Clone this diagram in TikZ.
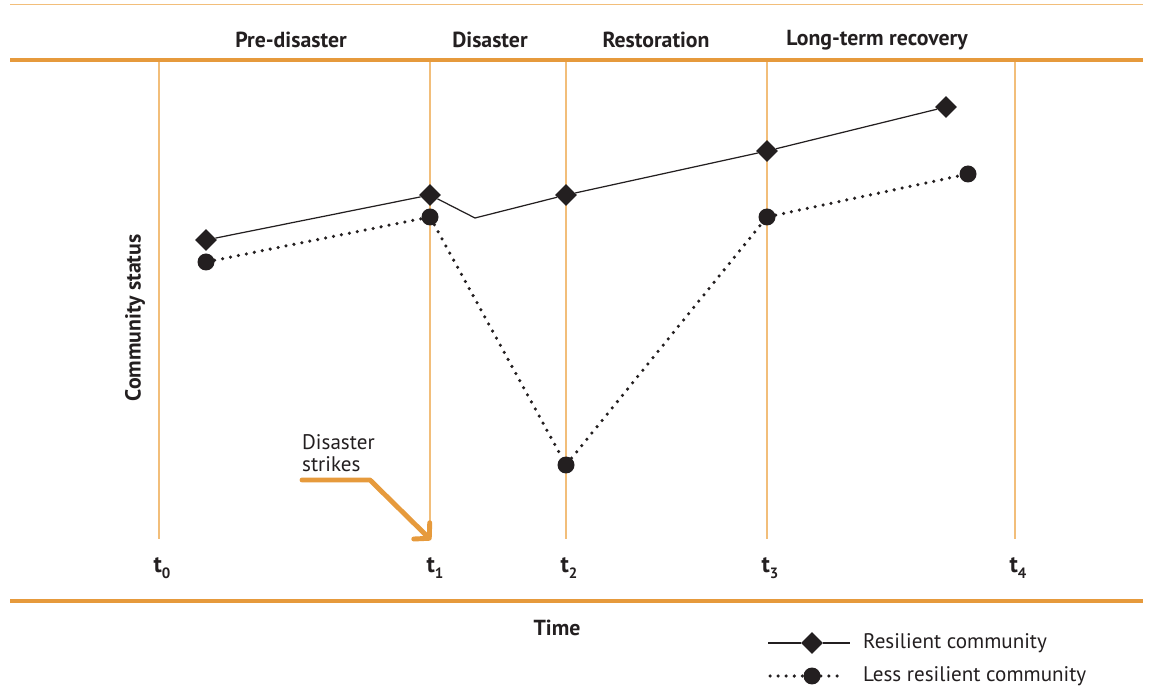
\documentclass[tikz,border=0pt]{standalone}
\usepackage{fontspec}
\setmainfont{PT Sans}
\usetikzlibrary{shapes.geometric,arrows.meta}

\definecolor{band}{HTML}{E69A3C}
\definecolor{rule}{HTML}{F2BE7A}
\definecolor{ink}{HTML}{231F20}

\newcommand{\tsub}[1]{t\raisebox{-0.55ex}{\fontsize{8.5}{9}\selectfont #1}}

\tikzset{
  res/.style={diamond, fill=ink, inner sep=0pt, minimum size=0.44cm},
  less/.style={circle, fill=ink, inner sep=0pt, minimum size=0.34cm},
  dots/.style={ink, line width=2pt, line cap=round, dash pattern=on 0pt off 4.6pt},
  phase/.style={text=ink, font=\bfseries\fontsize{12.4}{14}\selectfont},
  tick/.style={text=ink, font=\bfseries\fontsize{13.5}{15}\selectfont},
  note/.style={text=ink, font=\fontsize{12}{12.5}\selectfont},
}

\begin{document}
\begin{tikzpicture}[x=0.02cm, y=-0.02cm]
    \useasboundingbox (0,0) rectangle (1149,688);

    % frame
    \draw [rule, line width=0.8pt] (10,4.5) -- (1143,4.5);
    \draw [band, line width=2.8pt] (10,60) -- (1143,60);
    \draw [band, line width=2.8pt] (10,601) -- (1143,601);

    \draw [rule, line width=0.7pt] (159,62) -- (159,539);
    \draw [rule, line width=0.7pt] (430,62) -- (430,539);
    \draw [rule, line width=0.7pt] (566,62) -- (566,539);
    \draw [rule, line width=0.7pt] (767,62) -- (767,539);
    \draw [rule, line width=0.7pt] (1015,62) -- (1015,539);

    % phases
    \node [phase] (pre)  at (291,40) {Pre-disaster};
    \node [phase] (dis)  at (490,40) {Disaster};
    \node [phase] (rest) at (656,40) {Restoration};
    \node [phase] (long) at (877,40) {Long-term recovery};

    % time axis
    \node [tick] (t0) at (162,568) {\tsub{0}};
    \node [tick] (t1) at (435,568) {\tsub{1}};
    \node [tick] (t2) at (569,568) {\tsub{2}};
    \node [tick] (t3) at (770,568) {\tsub{3}};
    \node [tick] (t4) at (1018,568) {\tsub{4}};
    \node [phase] (time) at (557,628) {Time};
    \node [phase, rotate=90] (status) at (135,318) {Community status};

    % resilient community
    \node [res] (r0) at (206,240) {};
    \node [res] (r1) at (430,195) {};
    \node [res] (r2) at (566,195) {};
    \node [res] (r3) at (767,151) {};
    \node [res] (r4) at (946,107) {};
    \coordinate (dip) at (475,218);
    \draw [ink, line width=0.7pt] (r0) -- (r1) -- (dip) -- (r2) -- (r3) -- (r4);

    % less resilient community
    \node [less] (l0) at (206,262) {};
    \node [less] (l1) at (430,217) {};
    \node [less] (l2) at (566,465) {};
    \node [less] (l3) at (767,217) {};
    \node [less] (l4) at (968,174) {};
    \draw [dots] (l0) -- (l1) -- (l2) -- (l3) -- (l4);

    % disaster strikes
    \node [note, align=left, anchor=south west] (strike) at (296,478) {Disaster\\strikes};
    \coordinate (s0) at (302,480);
    \coordinate (s1) at (370,480);
    \coordinate (hit) at (431,540);
    \draw [band, line width=2.8pt, line cap=round, line join=round,
           -{Straight Barb[length=6pt,width=13pt,round]}] (s0) -- (s1) -- (hit);

    % legend
    \coordinate (ka) at (768,643);
    \coordinate (kb) at (850,643);
    \node [res] (kr) at (812,643) {};
    \draw [ink, line width=0.7pt] (ka) -- (kr) -- (kb);
    \node [note, anchor=west] (klr) at (857,643) {Resilient community};

    \coordinate (kc) at (770,676);
    \coordinate (kd) at (845,676);
    \node [less] (kl) at (812,676) {};
    \draw [dots] (kc) -- (kl) -- (kd);
    \node [note, anchor=west] (kll) at (857,676) {Less resilient community};
\end{tikzpicture}
\end{document}
